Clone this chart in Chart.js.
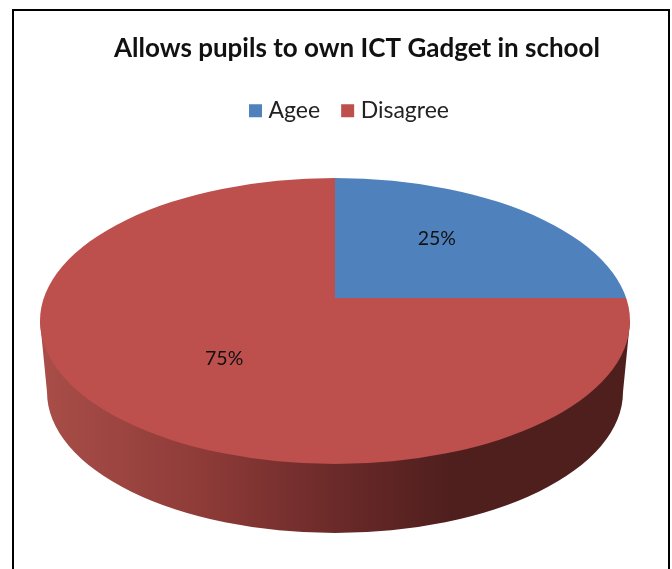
<!DOCTYPE html>
<html>
<head>
<meta charset="utf-8">
<title>ICT Gadget survey</title>
<script src="https://cdn.jsdelivr.net/npm/chart.js@4"></script>
<style>
  html, body { margin: 0; padding: 0; background: #fff; overflow: hidden; }
  #frame { position: absolute; left: 12px; top: 9px; width: 654px; height: 600px; border: 2px solid #000; }
  #myChart { position: absolute; left: 0; top: 0; }
</style>
</head>
<body>
<div id="frame"></div>
<canvas id="myChart" width="672" height="569"></canvas>
<script>
const chartTitle = 'Allows pupils to own ICT Gadget in school';
const categories = ['Agee', 'Disagree'];
const percentages = [25, 75];
const sliceColors = ['#4F81BD', '#BD4F4C'];

// top face of the disc, and the smaller rim ellipse further back in perspective
const face = { x: 335, y: 321, rx: 295, ry: 143 };
const rim = { x: 335, y: 392, rx: 288, ry: 141 };
// the slices meet here, above the middle of the face
const apex = { x: 335, y: 298 };
// size of the wedges once squashed, they get clipped back to the face
const wedge = { rx: 320, ry: 190 };

const disc3d = {
    id: 'disc3d',
    afterLayout: (chart) => {
        chart.titleBlock.left += 21;
        chart.titleBlock.right += 21;
        chart.legend.left += 15.5;
        chart.legend.right += 15.5;
    },
    beforeDatasetsDraw: (chart) => {
        const ctx = chart.ctx;
        const arc = chart.getDatasetMeta(0).data[0];

        // side wall
        const grad = ctx.createLinearGradient(rim.x - rim.rx, 0, rim.x + rim.rx, 0);
        grad.addColorStop(0, '#A84D48');
        grad.addColorStop(0.27, '#8E3B38');
        grad.addColorStop(0.5, '#6B2A29');
        grad.addColorStop(0.7, '#4F1F1E');
        grad.addColorStop(1, '#4F1F1E');
        ctx.save();
        ctx.fillStyle = grad;
        ctx.beginPath();
        ctx.moveTo(face.x - face.rx, face.y);
        ctx.lineTo(rim.x - rim.rx, rim.y);
        ctx.ellipse(rim.x, rim.y, rim.rx, rim.ry, 0, Math.PI, 0, true);
        ctx.lineTo(face.x + face.rx, face.y);
        ctx.closePath();
        ctx.fill();
        ctx.restore();

        // top face: slices are drawn by the library inside this transform
        ctx.save();
        ctx.beginPath();
        ctx.ellipse(face.x, face.y, face.rx, face.ry, 0, 0, Math.PI * 2);
        ctx.clip();
        ctx.translate(apex.x, apex.y);
        ctx.scale(wedge.rx / arc.outerRadius, wedge.ry / arc.outerRadius);
        ctx.translate(-arc.x, -arc.y);
    },
    afterDatasetsDraw: (chart) => {
        const ctx = chart.ctx;
        ctx.restore();

        // percentage labels at the middle of each slice
        const meta = chart.getDatasetMeta(0);
        ctx.save();
        ctx.fillStyle = '#111';
        ctx.font = '19.5px Lato';
        ctx.textAlign = 'center';
        ctx.textBaseline = 'middle';
        meta.data.forEach((el, i) => {
            const mid = (el.startAngle + el.endAngle) / 2;
            const x = apex.x - 4.5 + Math.cos(mid) * wedge.rx * 0.47;
            const y = apex.y + 1 + Math.sin(mid) * wedge.ry * 0.447;
            ctx.fillText(percentages[i] + '%', x, y);
        });
        ctx.restore();
    }
};

const makeLegendLabels = (chart) => {
    const items = Chart.overrides.doughnut.plugins.legend.labels.generateLabels(chart);
    items.forEach((item) => {
        item.strokeStyle = item.fillStyle;
        item.lineWidth = 10;
    });
    return items;
};

var ctx = document.getElementById('myChart').getContext('2d');

var myChart = new Chart(ctx, {
    type: 'pie',
    plugins: [disc3d],
    data: {
        labels: categories,
        datasets: [{
            data: percentages,
            backgroundColor: sliceColors,
            borderWidth: 0
        }]
    },
    options: {
        responsive: false,
        animation: false,
        events: [],
        layout: { padding: { top: 18 } },
        plugins: {
            tooltip: { enabled: false },
            title: {
                display: true,
                text: chartTitle,
                color: '#111',
                font: { family: 'Lato', size: 26, weight: 'bold' },
                padding: { top: 15, bottom: 9 }
            },
            legend: {
                position: 'top',
                labels: {
                    color: '#222',
                    font: { family: 'Lato', size: 23 },
                    boxWidth: 3,
                    boxHeight: 3,
                    padding: 26,
                    generateLabels: makeLegendLabels
                }
            }
        }
    }
});
</script>
</body>
</html>
